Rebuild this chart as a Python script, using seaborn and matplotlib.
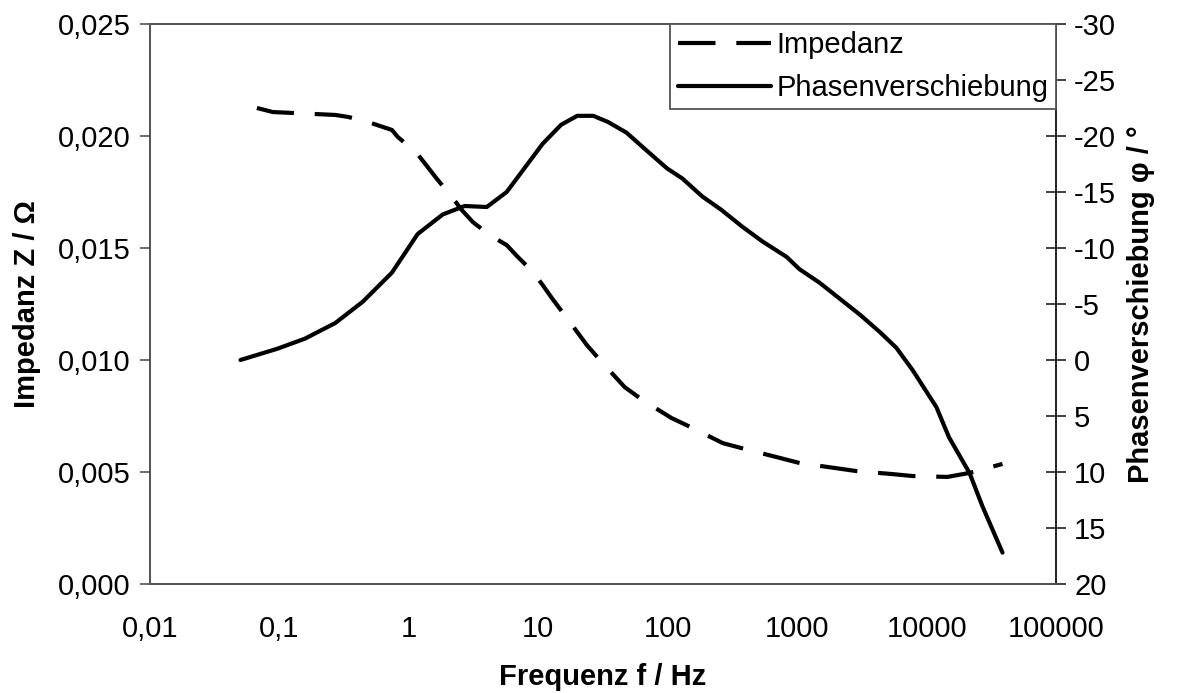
import numpy as np
import pandas as pd
import matplotlib
matplotlib.use("Agg")
import matplotlib.pyplot as plt
from matplotlib.ticker import FixedLocator, FuncFormatter, NullLocator
from matplotlib.lines import Line2D
import seaborn as sns

# ---- data ----
freq_impedance = [0.067, 0.089, 0.16, 0.27, 0.34, 0.48, 0.74, 0.82, 1.15, 1.65, 2.15,
                  2.56, 3.12, 4.2, 5.7, 6.95, 9.1, 10.8, 12.9, 16.6, 23.7, 30.9, 46.5,
                  64, 107, 156, 266, 393, 733, 1045, 1950, 2880, 5370, 7800, 14500,
                  21500, 38600]
impedance = [0.02125, 0.02107, 0.02100, 0.02094, 0.02085, 0.02063, 0.02027, 0.01996,
             0.01924, 0.01808, 0.01728, 0.01670, 0.01616, 0.01558, 0.01513, 0.01460,
             0.01393, 0.01335, 0.01272, 0.01188, 0.01067, 0.00991, 0.00879, 0.00821,
             0.00741, 0.00696, 0.00629, 0.00603, 0.00563, 0.00540, 0.00518, 0.00504,
             0.00491, 0.00482, 0.00478, 0.00496, 0.00536]

freq_phase = [0.050, 0.096, 0.157, 0.27, 0.44, 0.74, 1.17, 1.83, 2.7, 4.0, 5.7, 10.8,
              15, 20, 26.6, 34.6, 48, 68, 99, 130, 185, 260, 377, 537, 830, 1045, 1490,
              2120, 3090, 4350, 5830, 7800, 11900, 14900, 21500, 27100, 38600]
phase = [0.0, -1.0, -1.9, -3.3, -5.2, -7.8, -11.25, -13.0, -13.75, -13.66, -15.0, -19.3,
         -21.0, -21.8, -21.8, -21.25, -20.3, -18.75, -17.1, -16.2, -14.6, -13.4, -11.9,
         -10.6, -9.2, -8.1, -6.9, -5.5, -4.0, -2.5, -1.1, 0.9, 4.2, 6.9, 10.1, 13.1, 17.2]

x_ticks = [0.01, 0.1, 1, 10, 100, 1000, 10000, 100000]
x_tick_labels = ["0,01", "0,1", "1", "10", "100", "1000", "10000", "100000"]
left_ticks = [0.0, 0.005, 0.010, 0.015, 0.020, 0.025]
right_ticks = [20, 15, 10, 5, 0, -5, -10, -15, -20, -25, -30]

sns.set_style("white")
plt.rcParams['font.family'] = ['Liberation Sans', 'DejaVu Sans']
plt.rcParams['text.color'] = 'black'
plt.rcParams['axes.labelcolor'] = 'black'
plt.rcParams['xtick.color'] = 'black'
plt.rcParams['ytick.color'] = 'black'

df_z = pd.DataFrame({"f": freq_impedance, "z": impedance})
df_p = pd.DataFrame({"f": freq_phase, "p": phase})

fig = plt.figure(figsize=(11.79, 6.93), dpi=100)
ax = fig.add_axes([150/1179, 1-584/693, (1056-150)/1179, (584-24)/693])
ax2 = ax.twinx()

lw = 3.0
sns.lineplot(data=df_z, x="f", y="z", ax=ax, color="black", linewidth=lw,
             dashes=False, legend=False, sort=False)
ax.lines[0].set_dashes((9, 5))
sns.lineplot(data=df_p, x="f", y="p", ax=ax2, color="black", linewidth=lw,
             legend=False, sort=False)

ax.set_xscale("log")
ax.set_xlim(0.01, 100000)
ax.set_ylim(0, 0.025)
ax2.set_ylim(20, -30)

ax.xaxis.set_major_locator(FixedLocator(x_ticks))
ax.xaxis.set_minor_locator(NullLocator())
ax.set_xticklabels(x_tick_labels)
ax.yaxis.set_major_locator(FixedLocator(left_ticks))
ax.yaxis.set_major_formatter(FuncFormatter(lambda v, p: f"{v:.3f}".replace(".", ",")))
ax2.yaxis.set_major_locator(FixedLocator(right_ticks))
ax2.yaxis.set_major_formatter(FuncFormatter(lambda v, p: f"{v:g}"))

fs = 21
spine_c = "#555555"
for a in (ax, ax2):
    for s in a.spines.values():
        s.set_color(spine_c)
        s.set_linewidth(1.3)
ax2.spines['right'].set_color("#222222")
ax.tick_params(axis='x', direction='out', length=7, width=1.2, color=spine_c,
               labelsize=fs, pad=15.5, labelcolor="black")
ax.tick_params(axis='y', direction='out', length=7, width=1.2, color=spine_c,
               labelsize=fs, pad=7, labelcolor="black")
ax2.tick_params(axis='y', direction='inout', length=14, width=1.2, color="#222222",
                labelsize=fs, pad=6, labelcolor="black")

ax.set_xlabel("Frequenz f / Hz", fontsize=fs, fontweight="bold", labelpad=14,
              color="black")
ax.set_ylabel("Impedanz Z / Ω", fontsize=fs, fontweight="bold", labelpad=12,
              color="black")
ax2.set_ylabel("Phasenverschiebung φ / °", fontsize=fs, fontweight="bold", labelpad=8,
               color="black")

handles = [Line2D([], [], color="black", linewidth=lw, dashes=(9, 5)),
           Line2D([], [], color="black", linewidth=lw)]
leg = ax2.legend(handles, ["Impedanz", "Phasenverschiebung"], loc="upper right",
                 fontsize=fs, frameon=True, fancybox=False, framealpha=1,
                 edgecolor=spine_c, borderaxespad=0, handlelength=3.2,
                 handletextpad=0.2, borderpad=0.25, labelspacing=0.5)
leg.get_frame().set_linewidth(1.3)
for t in leg.get_texts():
    t.set_color("black")

fig.savefig("out.png", dpi=100)
